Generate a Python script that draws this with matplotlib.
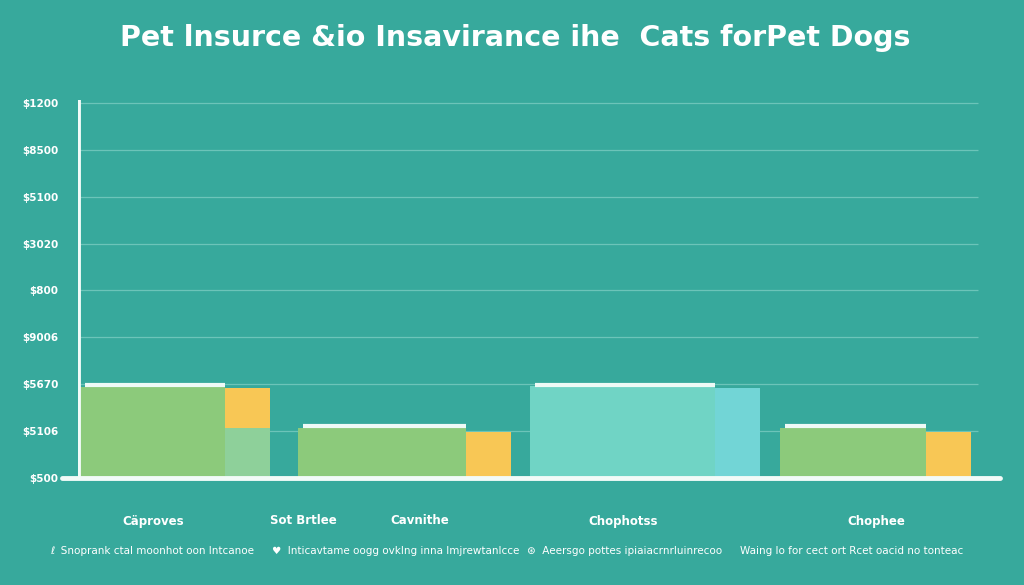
import numpy as np
import matplotlib.pyplot as plt
import matplotlib.transforms as mtransforms

# Data ==========================================================

main_vals = [195, 107, 196, 107]          # wide bars
side_vals = [192, 98, 192, 98]            # narrow bars
side_base = [107, 0, 0, 0]                # narrow bar 1 stacks on a light block
main_colors = ["#8cca7b", "#8cca7b", "#70d4c5", "#8cca7b"]
side_colors = ["#f8c755", "#f8c755", "#72d5d6", "#f8c755"]

ytick_vals = [0, 100, 200, 300, 400, 500, 600, 700, 800]
ytick_labels = ["$500", "$5106", "$5670", "$9006", "$800", "$3020", "$5100", "$8500", "$1200"]

cat_labels = ["Cäproves", "Sot Brtlee", "Cavnithe", "Chophotss", "Chophee"]
notes = ["Snoprank ctal moonhot oon Intcanoe",
         "Inticavtame oogg ovklng inna Imjrewtanlcce",
         "Aeersgo pottes ipiaiacrnrluinrecoo",
         "Waing lo for cect ort Rcet oacid no tonteac"]
note_icons = ["ℓ", "♥", "⊛", ""]

title = "Pet lnsurce &io Insavirance ihe  Cats forPet Dogs"

# Layout ========================================================

bg = "#37a99c"
W, H = 1024, 585
main_left = [2, 220, 452, 702]
main_w = [145, 168, 185, 146]
side_w = 45

fig = plt.figure(figsize=(W / 100, H / 100), dpi=100, facecolor=bg)
ax = fig.add_axes([78 / W, 1 - 478 / H, 922 / W, 378 / H], facecolor=bg)
ax.set_xlim(0, 922)
ax.set_ylim(0, 806)

for y in ytick_vals[1:]:
    ax.hlines(y, 0, 900, color="#6cc4b9", linewidth=0.9, zorder=1)

for i in range(4):
    ax.bar(main_left[i], main_vals[i], width=main_w[i], align="edge",
           color=main_colors[i], zorder=2)
    sl = main_left[i] + main_w[i]
    if side_base[i] > 0:
        ax.bar(sl, side_base[i], width=side_w, align="edge", color="#8ed09a", zorder=2)
    ax.bar(sl, side_vals[i] - side_base[i], bottom=side_base[i], width=side_w,
           align="edge", color=side_colors[i], zorder=2)
    ax.hlines(main_vals[i] + 3, main_left[i] + 5, main_left[i] + main_w[i],
              color="#eefaf6", linewidth=3, zorder=3)

for s in ax.spines.values():
    s.set_visible(False)
ax.axvline(0, ymin=0, ymax=1.0, color="#f2fbf8", linewidth=3.5, zorder=4)
ax.plot([-16, 922], [0, 0], color="#f2fbf8", linewidth=3.5, clip_on=False, zorder=4,
        solid_capstyle="round")

ax.set_yticks(ytick_vals)
ax.set_yticklabels(ytick_labels, color="white", fontsize=7.5, fontweight="bold")
ax.tick_params(axis="y", length=0, pad=14)
ax.set_xticks([])

# category labels and notes under the axis
trans = mtransforms.blended_transform_factory(ax.transData, fig.transFigure)
cat_x = [75, 225, 342, 545, 798]
for x, lab in zip(cat_x, cat_labels):
    ax.text(x, 1 - 521 / H, lab, transform=trans, ha="center", va="center",
            color="white", fontsize=8.5, fontweight="bold")

note_x = [-28, 194, 449, 662]
for x, ic, lab in zip(note_x, note_icons, notes):
    t = (ic + "  " if ic else "") + lab
    ax.text(x, 1 - 551 / H, t, transform=trans, ha="left", va="center",
            color="white", fontsize=7.5)

fig.text(515 / W, 1 - 38 / H, title, ha="center", va="center", color="white",
         fontsize=20.5, fontweight="bold")

fig.savefig("out.png", dpi=100, facecolor=bg)
plt.close()
